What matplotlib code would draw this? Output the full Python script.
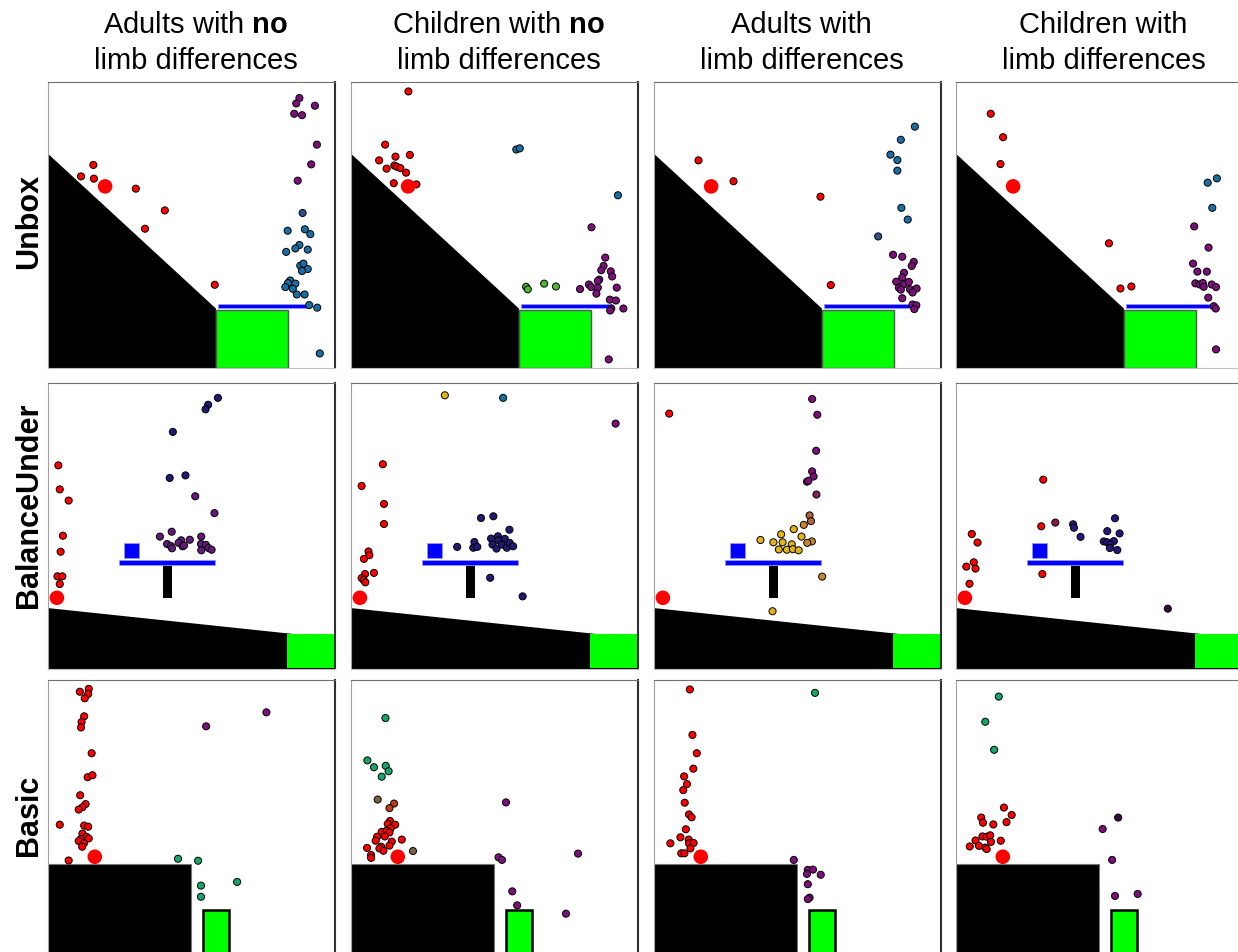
import numpy as np
import matplotlib.pyplot as plt
from matplotlib.patches import Polygon, Rectangle

plt.rcParams['font.family'] = ['Liberation Sans', 'DejaVu Sans']
plt.rcParams['mathtext.fontset'] = 'custom'
plt.rcParams['mathtext.rm'] = 'Liberation Sans'
plt.rcParams['mathtext.bf'] = 'Liberation Sans:bold'

col_titles = [r'Adults with $\bf{no}$' + '\nlimb differences',
              r'Children with $\bf{no}$' + '\nlimb differences',
              'Adults with\nlimb differences',
              'Children with\nlimb differences']
row_labels = ['Unbox', 'BalanceUnder', 'Basic']

# colour of each attempt group
group_colors = {
    'r': '#ff0000', 'p': '#7d0f7d', 'b': '#1b6ea5', 's': '#2e5090',
    'n': '#1f1a72', 'v': '#65197f', 'i': '#2a1580', 'g': '#4cb82a',
    't': '#12a866', 'y': '#e3b416', 'o': '#c8862e', 'w': '#b0653a',
    'm': '#852060', 'd': '#8a1a4a', 'k': '#7f6040', 'e': '#c03a18',
    'q': '#3a0a3a',
}

# placements (x, y, group) in scene units 0..100
unbox_adults_no = [
    (15.8, 71.0, 'r'), (11.5, 67.0, 'r'), (16.0, 66.2, 'r'), (30.6, 62.7, 'r'),
    (40.7, 55.1, 'r'), (33.8, 48.7, 'r'), (58.1, 29.1, 'r'),
    (87.6, 94.4, 'p'), (86.5, 92.5, 'p'), (93.0, 91.7, 'p'), (85.8, 88.9, 'p'),
    (88.5, 88.4, 'p'), (93.7, 78.1, 'p'), (91.7, 71.2, 'p'), (87.0, 65.5, 'p'),
    (88.7, 54.2, 's'),
    (83.5, 48.0, 'b'), (89.5, 48.5, 'b'), (91.4, 46.8, 'b'), (87.6, 43.0, 'b'),
    (86.2, 41.8, 'b'), (90.5, 41.4, 'b'), (83.0, 40.6, 'b'), (87.9, 35.8, 'b'),
    (89.0, 36.5, 'b'), (90.5, 34.6, 'b'), (88.5, 33.9, 'b'), (84.4, 30.6, 'b'),
    (83.6, 29.7, 'b'), (86.2, 29.5, 'b'), (82.7, 28.3, 'b'), (85.3, 27.7, 'b'),
    (86.7, 25.7, 'b'), (89.4, 25.7, 'b'), (91.0, 22.0, 'b'), (93.8, 21.1, 'b'),
    (94.7, 5.1, 'b'),
]
unbox_children_no = [
    (20.0, 96.7, 'r'), (11.9, 78.1, 'r'), (20.5, 74.5, 'r'), (15.5, 73.9, 'r'),
    (9.8, 72.6, 'r'), (15.1, 70.8, 'r'), (15.9, 70.4, 'r'), (17.2, 69.9, 'r'),
    (12.4, 69.7, 'r'), (19.2, 68.3, 'r'), (14.9, 64.6, 'r'), (22.8, 64.2, 'r'),
    (57.6, 76.4, 'b'), (58.8, 76.8, 'b'), (93.0, 60.4, 'b'),
    (83.8, 49.2, 'p'), (88.6, 38.6, 'p'), (88.0, 35.7, 'p'), (87.2, 34.2, 'p'),
    (90.5, 33.8, 'p'), (91.0, 32.0, 'p'), (86.5, 30.9, 'p'), (86.0, 30.4, 'p'),
    (82.9, 29.2, 'p'), (83.7, 28.3, 'p'), (86.0, 28.1, 'p'), (92.6, 28.1, 'p'),
    (79.8, 27.6, 'p'), (85.5, 26.0, 'p'), (90.2, 23.9, 'p'), (92.3, 23.6, 'p'),
    (90.7, 20.8, 'p'), (90.3, 20.1, 'p'), (94.9, 20.8, 'p'), (89.8, 3.0, 'p'),
    (61.0, 28.4, 'g'), (61.6, 27.5, 'g'), (67.3, 29.5, 'g'), (71.4, 28.5, 'g'),
]
unbox_adults_ld = [
    (15.5, 72.6, 'r'), (27.7, 65.3, 'r'), (58.0, 59.9, 'r'), (61.6, 29.0, 'r'),
    (90.9, 84.4, 'b'), (86.0, 79.8, 'b'), (82.4, 74.6, 'b'), (84.8, 72.7, 'b'),
    (84.8, 69.0, 'b'), (86.2, 56.0, 'b'), (88.4, 51.9, 'b'), (78.1, 46.0, 's'),
    (83.3, 39.6, 'p'), (86.5, 38.9, 'p'), (90.5, 37.1, 'p'), (89.8, 35.7, 'p'),
    (87.1, 33.3, 'p'), (86.5, 31.6, 'p'), (84.4, 30.2, 'p'), (86.9, 29.2, 'p'),
    (88.8, 30.1, 'p'), (85.3, 28.1, 'p'), (86.0, 27.4, 'p'), (89.2, 27.5, 'p'),
    (91.5, 27.8, 'p'), (90.1, 26.4, 'p'), (86.5, 24.4, 'p'), (90.1, 22.2, 'p'),
    (91.4, 21.9, 'p'), (90.7, 20.6, 'p'),
]
unbox_children_ld = [
    (12.1, 88.9, 'r'), (16.4, 80.7, 'r'), (15.5, 71.3, 'r'), (53.3, 43.6, 'r'),
    (57.3, 27.8, 'r'), (61.1, 28.5, 'r'),
    (87.7, 64.8, 'b'), (90.9, 66.3, 'b'), (89.3, 56.0, 'b'),
    (83.0, 49.5, 'p'), (88.0, 42.1, 'p'), (82.6, 36.5, 'p'), (84.1, 33.7, 'p'),
    (87.4, 33.7, 'p'), (83.4, 29.6, 'p'), (84.9, 29.2, 'p'), (86.0, 29.7, 'p'),
    (86.3, 28.4, 'p'), (89.1, 29.2, 'p'), (90.6, 28.3, 'p'), (87.9, 24.6, 'p'),
    (89.8, 21.6, 'p'), (90.5, 20.8, 'p'), (90.6, 6.5, 'p'),
]

balance_adults_no = [
    (3.6, 71.2, 'r'), (4.1, 62.8, 'r'), (7.2, 58.9, 'r'), (5.2, 46.6, 'r'),
    (4.4, 41.0, 'r'), (3.3, 32.4, 'r'), (5.0, 32.4, 'r'), (4.1, 29.7, 'r'),
    (59.2, 94.8, 'n'), (55.8, 92.4, 'n'), (54.9, 90.8, 'n'), (43.5, 82.9, 'n'),
    (42.4, 66.8, 'n'), (47.9, 67.7, 'n'),
    (51.3, 60.4, 'v'), (58.0, 54.5, 'v'), (43.1, 48.0, 'v'), (39.0, 46.3, 'v'),
    (53.4, 46.3, 'v'), (49.4, 45.2, 'v'), (46.4, 45.0, 'v'), (45.5, 44.1, 'v'),
    (41.5, 43.7, 'v'), (42.8, 43.0, 'v'), (43.2, 42.2, 'v'), (46.9, 42.9, 'v'),
    (47.4, 43.2, 'v'), (53.3, 43.7, 'v'), (55.0, 43.4, 'v'), (55.9, 42.3, 'v'),
    (57.0, 41.7, 'v'), (53.4, 41.5, 'v'),
]
balance_children_no = [
    (11.1, 71.6, 'r'), (3.7, 64.0, 'r'), (11.5, 57.7, 'r'), (11.5, 50.7, 'r'),
    (6.1, 41.1, 'r'), (6.4, 39.8, 'r'), (4.5, 38.5, 'r'), (8.0, 33.6, 'r'),
    (4.9, 33.2, 'r'), (3.7, 31.8, 'r'), (4.4, 31.1, 'r'), (5.0, 30.3, 'r'),
    (32.7, 95.7, 'y'), (53.0, 94.8, 'b'), (92.2, 85.8, 'p'),
    (45.3, 52.8, 'n'), (49.6, 53.4, 'n'), (55.2, 48.7, 'n'), (37.0, 42.7, 'n'),
    (43.0, 44.4, 'n'), (42.6, 42.4, 'n'), (44.0, 42.7, 'n'), (48.8, 45.6, 'n'),
    (51.2, 46.4, 'n'), (53.6, 45.5, 'n'), (51.4, 45.0, 'n'), (49.3, 43.5, 'n'),
    (50.7, 42.1, 'n'), (52.6, 43.5, 'n'), (54.3, 42.4, 'n'), (55.3, 44.1, 'n'),
    (56.5, 42.9, 'n'), (48.5, 31.9, 'n'), (59.8, 25.4, 'n'),
]
balance_adults_ld = [
    (5.3, 89.3, 'r'),
    (55.1, 94.4, 'p'), (56.9, 88.9, 'p'), (56.5, 76.3, 'p'), (55.1, 69.1, 'p'),
    (55.6, 67.3, 'p'), (53.3, 65.5, 'p'), (53.8, 65.8, 'p'), (56.6, 61.0, 'm'),
    (54.2, 53.7, 'w'), (54.7, 51.7, 'w'), (52.2, 50.4, 'o'), (58.6, 32.3, 'o'),
    (55.0, 44.6, 'o'), (53.4, 44.1, 'o'),
    (48.7, 48.9, 'y'), (44.3, 47.1, 'y'), (37.1, 45.1, 'y'), (51.4, 46.3, 'y'),
    (41.6, 44.3, 'y'), (44.8, 44.3, 'y'), (48.0, 43.6, 'y'), (43.5, 41.8, 'y'),
    (46.3, 41.7, 'y'), (48.4, 41.9, 'y'), (50.4, 41.5, 'y'), (41.3, 20.2, 'y'),
]
balance_children_ld = [
    (30.4, 66.2, 'r'), (29.7, 49.9, 'r'), (30.1, 33.2, 'r'), (5.5, 47.2, 'r'),
    (7.5, 44.2, 'r'), (6.2, 37.3, 'r'), (3.6, 35.8, 'r'), (6.8, 35.1, 'r'),
    (4.7, 29.8, 'r'), (34.6, 51.2, 'd'),
    (40.8, 50.6, 'i'), (41.1, 49.4, 'i'), (43.4, 46.2, 'i'), (55.4, 52.7, 'i'),
    (52.7, 48.2, 'i'), (57.0, 47.4, 'i'), (51.5, 44.6, 'i'), (52.7, 44.3, 'i'),
    (55.0, 44.7, 'i'), (53.8, 43.5, 'i'), (53.6, 42.3, 'i'), (56.2, 41.6, 'i'),
    (73.8, 21.1, 'q'),
]

basic_adults_no = [
    (11.1, 95.9, 'r'), (14.2, 96.9, 'r'), (14.0, 95.1, 'r'), (12.8, 93.6, 'r'),
    (12.6, 87.3, 'r'), (11.7, 85.3, 'r'), (11.5, 83.4, 'r'), (15.2, 74.4, 'r'),
    (13.8, 66.0, 'r'), (15.5, 66.7, 'r'), (11.2, 59.7, 'r'), (13.1, 56.6, 'r'),
    (12.0, 55.5, 'r'), (10.7, 54.7, 'r'), (4.1, 49.4, 'r'), (12.6, 49.1, 'r'),
    (14.0, 48.7, 'r'), (12.0, 46.3, 'r'), (13.4, 45.2, 'r'), (14.2, 44.6, 'r'),
    (11.4, 44.4, 'r'), (10.7, 43.7, 'r'), (12.5, 42.9, 'r'), (11.9, 41.7, 'r'),
    (7.2, 36.9, 'r'),
    (55.1, 83.8, 'p'), (76.1, 88.7, 'p'),
    (45.3, 37.5, 't'), (52.3, 36.8, 't'), (65.9, 29.4, 't'), (53.3, 28.1, 't'),
    (53.3, 24.2, 't'),
]
basic_children_no = [
    (12.0, 86.7, 't'), (5.7, 71.9, 't'), (8.0, 69.5, 't'), (12.1, 70.0, 't'),
    (13.1, 68.1, 't'), (10.7, 66.2, 't'),
    (9.3, 58.2, 'k'), (21.6, 40.2, 'k'), (15.0, 56.8, 'e'), (13.4, 55.2, 'e'),
    (13.6, 50.7, 'r'), (12.8, 49.7, 'r'), (15.4, 49.4, 'r'), (13.8, 48.1, 'r'),
    (10.7, 46.9, 'r'), (12.4, 47.3, 'r'), (13.4, 46.7, 'r'), (9.1, 45.2, 'r'),
    (11.8, 45.3, 'r'), (8.6, 43.8, 'r'), (14.2, 43.5, 'r'), (17.7, 44.2, 'r'),
    (10.5, 41.7, 'r'), (9.9, 41.1, 'r'), (11.3, 40.3, 'r'), (5.6, 41.3, 'r'),
    (7.0, 38.8, 'r'), (7.0, 37.8, 'r'), (13.4, 42.1, 'r'),
    (54.0, 57.2, 'p'), (51.4, 38.0, 'p'), (52.6, 37.1, 'p'), (79.1, 39.3, 'p'),
    (56.2, 26.1, 'p'), (57.9, 21.2, 'p'), (74.9, 18.3, 'p'),
]
basic_adults_ld = [
    (12.5, 96.7, 'r'), (13.4, 80.8, 'r'), (14.9, 74.4, 'r'), (13.7, 69.0, 'r'),
    (10.5, 66.3, 'r'), (11.5, 63.6, 'r'), (10.2, 61.5, 'r'), (10.7, 57.1, 'r'),
    (12.2, 53.0, 'r'), (13.1, 52.0, 'r'), (11.1, 47.8, 'r'), (9.2, 45.0, 'r'),
    (5.7, 42.9, 'r'), (12.1, 44.2, 'r'), (12.2, 42.9, 'r'), (13.8, 43.0, 'r'),
    (12.7, 41.1, 'r'), (9.5, 39.4, 'r'), (10.6, 39.4, 'r'),
    (56.1, 95.5, 't'),
    (48.7, 37.1, 'p'), (53.6, 33.6, 'p'), (55.4, 33.7, 'p'), (58.1, 31.9, 'p'),
    (53.3, 32.2, 'p'), (53.6, 28.6, 'p'), (54.2, 23.9, 'p'), (53.6, 23.4, 'p'),
]
basic_children_ld = [
    (14.9, 94.2, 't'), (10.2, 85.4, 't'), (13.3, 75.6, 't'),
    (16.7, 55.4, 'r'), (19.4, 52.8, 'r'), (8.8, 51.9, 'r'), (9.4, 50.1, 'r'),
    (13.0, 49.5, 'r'), (17.6, 50.3, 'r'), (9.2, 45.3, 'r'), (10.7, 45.2, 'r'),
    (11.9, 45.7, 'r'), (6.8, 43.9, 'r'), (12.2, 43.4, 'r'), (15.6, 43.8, 'r'),
    (4.8, 41.8, 'r'), (8.0, 42.0, 'r'), (10.2, 41.4, 'r'), (10.7, 40.9, 'r'),
    (56.5, 51.9, 'q'), (51.1, 47.9, 'p'), (54.4, 37.1, 'p'), (55.4, 24.5, 'p'),
    (63.3, 25.2, 'p'),
]

panels = [
    [unbox_adults_no, unbox_children_no, unbox_adults_ld, unbox_children_ld],
    [balance_adults_no, balance_children_no, balance_adults_ld, balance_children_ld],
    [basic_adults_no, basic_children_no, basic_adults_ld, basic_children_ld],
]

# ball start position per scene
ball_pos = [(19.9, 63.5), (3.1, 24.9), (16.3, 38.2)]


def draw_scene(ax, row):
    if row == 0:
        ax.add_patch(Polygon([(0, 0), (0, 74.9), (58.5, 20.8), (58.5, 0)],
                             closed=True, fc='black', ec='none', zorder=1))
        ax.add_patch(Rectangle((58.7, 0), 24.8, 20.2, fc='#00ff00',
                               ec='#555555', lw=1, zorder=1))
        ax.add_patch(Rectangle((59.1, 20.9), 31.9, 1.4, fc='#0000ff',
                               ec='#9999ff', lw=0.6, zorder=1))
    elif row == 1:
        ax.add_patch(Polygon([(0, 0), (0, 21.3), (100, 10.7), (100, 0)],
                             closed=True, fc='black', ec='none', zorder=1))
        ax.add_patch(Rectangle((83.3, 0.3), 16.2, 12.0, fc='#00ff00',
                               ec='none', zorder=1))
        ax.add_patch(Rectangle((39.9, 24.8), 3.3, 11.9, fc='black',
                               ec='none', zorder=1))
        ax.add_patch(Rectangle((24.8, 36.5), 33.5, 1.7, fc='#0000ff',
                               ec='#9999ff', lw=0.6, zorder=1))
        ax.add_patch(Rectangle((26.5, 38.9), 5.1, 5.2, fc='#0000ff',
                               ec='#9999ff', lw=0.6, zorder=1))
    else:
        ax.add_patch(Rectangle((0, 0), 49.8, 35.7, fc='black',
                               ec='#777777', lw=0.8, zorder=1))
        ax.add_patch(Rectangle((54.1, 0), 8.8, 19.6, fc='#00ff00',
                               ec='black', lw=1.8, zorder=1))


fig = plt.figure(figsize=(12.38, 9.52), dpi=100)
FW, FH = 1238, 952
col_left = [48, 351, 654, 956]
row_top = [82, 383, 680]
PW, PH = 287, 286

for r in range(3):
    for c in range(4):
        ax = fig.add_axes([col_left[c] / FW, 1 - (row_top[r] + PH) / FH,
                           PW / FW, PH / FH])
        ax.set_xlim(0, 100)
        ax.set_ylim(0, 100)
        ax.set_xticks([])
        ax.set_yticks([])
        ax.spines['left'].set_color('#a0a0a0')
        ax.spines['top'].set_color('#707070')
        ax.spines['bottom'].set_color('#c0c0c0')
        ax.spines['right'].set_color('#303030')
        ax.spines['right'].set_linewidth(1.5)
        draw_scene(ax, r)
        pts = panels[r][c]
        xs = [p[0] for p in pts]
        ys = [p[1] for p in pts]
        cs = [group_colors[p[2]] for p in pts]
        ax.scatter(xs, ys, s=26, c=cs, edgecolors='black', linewidths=0.7,
                   zorder=3)
        ax.scatter([ball_pos[r][0]], [ball_pos[r][1]], s=110, c='#ff0000',
                   edgecolors='none', zorder=4)

for c in range(4):
    xc = (col_left[c] + PW / 2 + 4) / FW
    fig.text(xc, 1 - 43 / FH, col_titles[c], ha='center', va='center',
             multialignment='center', fontsize=21, linespacing=1.32)

row_label_y = [221, 505, 815]
for r in range(3):
    fig.text(29 / FW, 1 - row_label_y[r] / FH, row_labels[r], ha='center',
             va='center', rotation=90, fontsize=22, fontweight='bold')

fig.savefig('out.png', dpi=100)
